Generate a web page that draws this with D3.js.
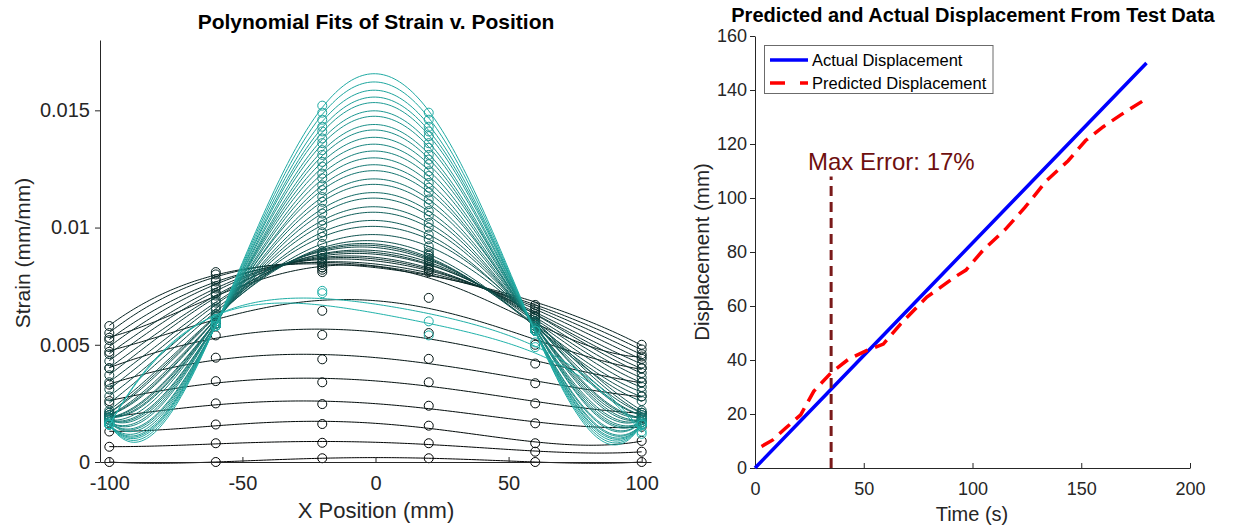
<!DOCTYPE html>
<html>
<head>
<meta charset="utf-8">
<script src="https://cdn.jsdelivr.net/npm/d3@7/dist/d3.min.js"></script>
<style>
  body { margin: 0; background: #fff; }
  svg { font-family: "Liberation Sans", Arial, Helvetica, sans-serif; }
</style>
</head>
<body>
<svg id="chart" width="1242" height="529"></svg>
<script>
// gauge positions along the beam (mm)
var gaugeX = [-100, -60, -20, 20, 60, 100];

// strain read at each gauge, one value per load step (48 steps)
var strainM100 = [0.0000, 0.00065, 0.0013, 0.0019, 0.0026, 0.0033, 0.0040, 0.0047, 0.0053,
  0.0058, 0.0055, 0.0052, 0.0049, 0.0046, 0.0043, 0.0040, 0.0037, 0.0034, 0.0031, 0.0028, 0.0025, 0.0022,
  0.0021, 0.0021, 0.0020, 0.0020, 0.0020, 0.0019, 0.0019, 0.0019, 0.0019, 0.0018, 0.0018, 0.0018,
  0.0018, 0.0017, 0.0017, 0.0017, 0.0017, 0.0017, 0.0016, 0.0016, 0.0016, 0.0016, 0.0016, 0.0016,
  0.0016, 0.0016];
var strainM60 = [0.0000, 0.0008, 0.0016, 0.0025, 0.00345, 0.00445, 0.0054, 0.0063, 0.0072,
  0.0081, 0.0080, 0.0078, 0.0077, 0.0075, 0.0074, 0.0072, 0.0071, 0.0069, 0.0068, 0.0066, 0.0065, 0.0063,
  0.0062, 0.0062, 0.0061, 0.0061, 0.0061, 0.0060, 0.0060, 0.0060, 0.0060, 0.0060, 0.0059, 0.0059,
  0.0059, 0.0059, 0.0059, 0.0058, 0.0058, 0.0058, 0.0058, 0.0058, 0.0058, 0.0058, 0.0058, 0.0058,
  0.0061, 0.0060];
var strainM20 = [0.00016, 0.00082, 0.00162, 0.00247, 0.0034, 0.00438, 0.00542, 0.00645, 0.0081,
  0.0082, 0.0083, 0.0083, 0.0084, 0.0085, 0.0085, 0.0086, 0.0087, 0.0087, 0.0088, 0.0089, 0.0089, 0.0090,
  0.0093, 0.0096, 0.0098, 0.0101, 0.0103, 0.0106, 0.0108, 0.0111, 0.0113, 0.0116, 0.0118, 0.0121,
  0.0123, 0.0126, 0.0128, 0.0131, 0.0133, 0.0136, 0.0138, 0.0141, 0.0143, 0.0146, 0.0149, 0.0152,
  0.0073, 0.0072];
var strainP20 = [0.00016, 0.0008, 0.00155, 0.0024, 0.0034, 0.0044, 0.0055, 0.0070, 0.0081,
  0.0082, 0.0082, 0.0083, 0.0084, 0.0084, 0.0085, 0.0086, 0.0086, 0.0087, 0.0088, 0.0088, 0.0089, 0.0090,
  0.0092, 0.0095, 0.0097, 0.0100, 0.0102, 0.0105, 0.0107, 0.0110, 0.0112, 0.0115, 0.0117, 0.0119,
  0.0122, 0.0124, 0.0127, 0.0129, 0.0131, 0.0134, 0.0136, 0.0139, 0.0141, 0.0143, 0.0146, 0.0149,
  0.0060, 0.0054];
var strainP60 = [0.0000, 0.00044, 0.0008, 0.00165, 0.0025, 0.00336, 0.0042, 0.0050, 0.0058,
  0.0067, 0.0066, 0.0065, 0.0064, 0.0063, 0.0062, 0.0062, 0.0061, 0.0060, 0.0059, 0.0058, 0.0057, 0.0057,
  0.0060, 0.0060, 0.0059, 0.0059, 0.0059, 0.0058, 0.0058, 0.0058, 0.0058, 0.0058, 0.0057, 0.0057,
  0.0057, 0.0057, 0.0057, 0.0056, 0.0056, 0.0056, 0.0056, 0.0056, 0.0056, 0.0056, 0.0056, 0.0056,
  0.0051, 0.0049];
var strainP100 = [0.0000, 0.00044, 0.0009, 0.0015, 0.0021, 0.0028, 0.0034, 0.0040, 0.0045,
  0.0050, 0.0048, 0.0046, 0.0044, 0.0042, 0.0040, 0.0038, 0.0036, 0.0034, 0.0032, 0.0030, 0.0028, 0.0026,
  0.0022, 0.0021, 0.0021, 0.0020, 0.0020, 0.0019, 0.0019, 0.0019, 0.0018, 0.0018, 0.0018, 0.0018,
  0.0017, 0.0017, 0.0017, 0.0017, 0.0017, 0.0016, 0.0016, 0.0016, 0.0016, 0.0016, 0.0016, 0.0016,
  0.0013, 0.0012];

// right panel: test data
var timeActual = [0, 30, 60, 90, 120, 150, 180];
var dispActual = [0, 25, 50, 75, 100, 125, 150];
var timePred = [3, 8, 14, 21, 27, 35, 43, 51, 59, 67, 79, 92, 97, 105, 115, 124, 134, 144, 152, 160, 168, 179];
var dispPred = [8, 10.3, 14.7, 19.7, 28.4, 35.3, 40.3, 43.4, 45.9, 53.4, 63.3, 70.8, 73.3, 80.8, 88.3,
  96.4, 106.4, 113.8, 121.3, 126.3, 130.7, 136.3];
var maxErrTime = 35;
var maxErrSpan = [0, 108];

var axisColor = '#262626';
var svg = d3.select('#chart');

// least squares polynomial fit (same as polyfit)
function polyfit(xs, ys, deg) {
  var n = deg + 1, A = [], b = [];
  for (var i = 0; i < n; i++) { A.push(new Array(n).fill(0)); b.push(0); }
  xs.forEach(function(x, k) {
    for (var i = 0; i < n; i++) {
      b[i] += Math.pow(x, i) * ys[k];
      for (var j = 0; j < n; j++) A[i][j] += Math.pow(x, i + j);
    }
  });
  for (var i = 0; i < n; i++) {
    var p = i;
    for (var r = i + 1; r < n; r++) if (Math.abs(A[r][i]) > Math.abs(A[p][i])) p = r;
    var t = A[i]; A[i] = A[p]; A[p] = t;
    var tb = b[i]; b[i] = b[p]; b[p] = tb;
    for (var r = i + 1; r < n; r++) {
      var f = A[r][i] / A[i][i];
      for (var c = i; c < n; c++) A[r][c] -= f * A[i][c];
      b[r] -= f * b[i];
    }
  }
  var coef = new Array(n).fill(0);
  for (var i = n - 1; i >= 0; i--) {
    var s = b[i];
    for (var c = i + 1; c < n; c++) s -= A[i][c] * coef[c];
    coef[i] = s / A[i][i];
  }
  return coef;
}

function styleAxis(g) {
  g.selectAll('path').attr('stroke', axisColor);
  g.selectAll('line').attr('stroke', axisColor);
  g.selectAll('text').attr('fill', axisColor);
}

/* ---------- left panel ---------- */
var xL = d3.scaleLinear().domain([-103.5, 103.5]).range([100, 651]);
var yL = d3.scaleLinear().domain([0, 0.018]).range([462, 40]);

var steps = strainM100.map(function(d, i) {
  return [strainM100[i], strainM60[i], strainM20[i], strainP20[i], strainP60[i], strainP100[i]];
});
var color = d3.interpolateRgb('#000000', '#20b2aa');
var fitX = d3.range(-100, 100.5, 1);
var line = d3.line().x(function(d) { return xL(d[0]); }).y(function(d) { return yL(d[1]); });

var gL = svg.append('g');
steps.forEach(function(vals, i) {
  var c = color(i / (steps.length - 1));
  var coef = polyfit(gaugeX.map(function(x) { return x / 100; }), vals, 4);
  var pts = fitX.map(function(x) {
    var u = x / 100, y = 0;
    for (var k = coef.length - 1; k >= 0; k--) y = y * u + coef[k];
    return [x, y];
  });
  gL.append('path').attr('d', line(pts)).attr('fill', 'none')
    .attr('stroke', c).attr('stroke-width', 1);
  gL.selectAll(null).data(vals).enter().append('circle')
    .attr('cx', function(d, k) { return xL(gaugeX[k]); })
    .attr('cy', function(d) { return yL(d); })
    .attr('r', 4.5).attr('fill', 'none').attr('stroke', c).attr('stroke-width', 1);
});

svg.append('g').attr('transform', 'translate(0,462)')
  .call(d3.axisBottom(xL).tickValues([-100, -50, 0, 50, 100]).tickSizeInner(-5).tickSizeOuter(0)
    .tickPadding(14).tickFormat(function(d) { return String(d); }))
  .call(styleAxis).selectAll('text').attr('font-size', 20);
svg.append('g').attr('transform', 'translate(100,0)')
  .call(d3.axisLeft(yL).tickValues([0, 0.005, 0.01, 0.015]).tickSizeInner(5).tickSizeOuter(0)
    .tickPadding(5).tickFormat(function(d) { return String(d); }))
  .call(styleAxis).selectAll('text').attr('font-size', 20);

svg.append('text').attr('x', 376).attr('y', 29).attr('text-anchor', 'middle')
  .attr('font-size', 21).attr('font-weight', 'bold').attr('fill', '#000')
  .text('Polynomial Fits of Strain v. Position');
svg.append('text').attr('x', 376).attr('y', 518).attr('text-anchor', 'middle')
  .attr('font-size', 22).attr('fill', axisColor).text('X Position (mm)');
svg.append('text').attr('transform', 'translate(30,253) rotate(-90)').attr('text-anchor', 'middle')
  .attr('font-size', 21).attr('fill', axisColor).text('Strain (mm/mm)');

/* ---------- right panel ---------- */
var xR = d3.scaleLinear().domain([0, 200]).range([755, 1190]);
var yR = d3.scaleLinear().domain([0, 160]).range([468, 36]);
var lineR = d3.line().x(function(d) { return xR(d[0]); }).y(function(d) { return yR(d[1]); });

svg.append('g').attr('transform', 'translate(0,468)')
  .call(d3.axisBottom(xR).tickValues([0, 50, 100, 150, 200]).tickSizeInner(-5).tickSizeOuter(0)
    .tickPadding(14))
  .call(styleAxis).selectAll('text').attr('font-size', 18);
svg.append('g').attr('transform', 'translate(755,0)')
  .call(d3.axisLeft(yR).tickValues(d3.range(0, 161, 20)).tickSizeInner(5).tickSizeOuter(0)
    .tickPadding(3))
  .call(styleAxis).selectAll('text').attr('font-size', 18);

svg.append('path')
  .attr('d', lineR(timeActual.map(function(t, i) { return [t, dispActual[i]]; })))
  .attr('fill', 'none').attr('stroke', '#0000ff').attr('stroke-width', 3.5);
svg.append('path')
  .attr('d', lineR(timePred.map(function(t, i) { return [t, dispPred[i]]; })))
  .attr('fill', 'none').attr('stroke', '#ff0000').attr('stroke-width', 3.5)
  .attr('stroke-dasharray', '14,8');
svg.append('path')
  .attr('d', lineR(maxErrSpan.map(function(v) { return [maxErrTime, v]; })))
  .attr('fill', 'none').attr('stroke', '#7a1a1a').attr('stroke-width', 3)
  .attr('stroke-dasharray', '10,6');
svg.append('text').attr('x', 808).attr('y', 170).attr('font-size', 24).attr('fill', '#6e0f0f')
  .text('Max Error: ' + 17 + '%');

// legend
var leg = svg.append('g');
leg.append('rect').attr('x', 764.5).attr('y', 45.5).attr('width', 228.5).attr('height', 48)
  .attr('fill', '#fff').attr('stroke', '#6b6b6b').attr('stroke-width', 1);
leg.append('line').attr('x1', 770).attr('x2', 808).attr('y1', 60).attr('y2', 60)
  .attr('stroke', '#0000ff').attr('stroke-width', 3.5);
leg.append('line').attr('x1', 770).attr('x2', 808).attr('y1', 83).attr('y2', 83)
  .attr('stroke', '#ff0000').attr('stroke-width', 3.5).attr('stroke-dasharray', '15,15');
leg.append('text').attr('x', 812).attr('y', 66).attr('font-size', 16.5).attr('fill', '#000')
  .text('Actual Displacement');
leg.append('text').attr('x', 812).attr('y', 89).attr('font-size', 16.5).attr('fill', '#000')
  .text('Predicted Displacement');

svg.append('text').attr('x', 973).attr('y', 22).attr('text-anchor', 'middle')
  .attr('font-size', 20).attr('font-weight', 'bold').attr('fill', '#000')
  .text('Predicted and Actual Displacement From Test Data');
svg.append('text').attr('x', 972).attr('y', 521).attr('text-anchor', 'middle')
  .attr('font-size', 20).attr('fill', axisColor).text('Time (s)');
svg.append('text').attr('transform', 'translate(709,252) rotate(-90)').attr('text-anchor', 'middle')
  .attr('font-size', 20.5).attr('fill', axisColor).text('Displacement (mm)');
</script>
</body>
</html>
